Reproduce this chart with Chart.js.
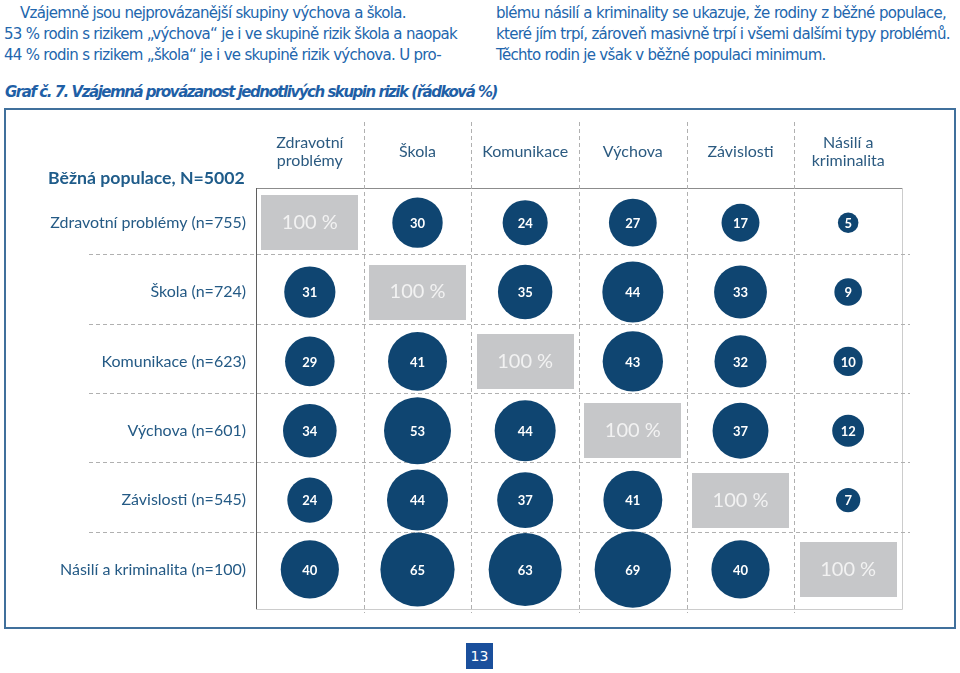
<!DOCTYPE html>
<html lang="cs">
<head>
<meta charset="utf-8">
<title>Graf č. 7</title>
<script src="https://cdn.jsdelivr.net/npm/chart.js@4.4.1/dist/chart.umd.min.js"></script>
<style>
  html, body { margin: 0; padding: 0; background: #fff; }
  #page { position: relative; width: 960px; height: 673px; overflow: hidden; font-family: "DejaVu Sans", sans-serif; color: #2266ad; }
  .txt { position: absolute; white-space: nowrap; line-height: 21px; font-size: 15px; }
  .just { width: 450px; text-align: justify; text-align-last: justify; }
  #title { position: absolute; left: 5px; white-space: nowrap; font-weight: bold; font-style: italic; line-height: 20px; top: 82px; font-size: 15px; color: #1f5fa6; }
  #box { position: absolute; left: 4px; top: 108px; width: 952px; height: 521px; border: 2px solid #40709c; box-sizing: border-box; }
  #chart { position: absolute; left: 6px; top: 110px; }
  #population { position: absolute; left: 48px; top: 166px; font-family: Lato, sans-serif; font-weight: bold; color: #1f5c8a; white-space: nowrap; line-height: 24px; }
  #pageno { position: absolute; left: 466px; top: 643px; width: 27px; height: 26px; background: #1a4f9c; color: #fff; font-size: 14px; line-height: 26px; text-align: center; }
</style>
</head>
<body>
<div id="page">
  <div class="txt" style="left:20px; top:3px;">Vzájemně jsou nejprovázanější skupiny výchova a škola.</div>
  <div class="txt" id="refLine" style="left:4px; top:24px;">53 % rodin s rizikem „výchova“ je i ve skupině rizik škola a naopak</div>
  <div class="txt" style="left:4px; top:45px;">44 % rodin s rizikem „škola“ je i ve skupině rizik výchova. U pro-</div>
  <div class="txt just" style="left:496px; top:3px;">blému násilí a kriminality se ukazuje, že rodiny z běžné populace,</div>
  <div class="txt just" style="left:496px; top:24px;">které jím trpí, zároveň masivně trpí i všemi dalšími typy problémů.</div>
  <div class="txt" style="left:496px; top:45px;">Těchto rodin je však v běžné populaci minimum.</div>
  <div id="title">Graf č. 7. Vzájemná provázanost jednotlivých skupin rizik (řádková %)</div>
  <div id="box"></div>
  <canvas id="chart" width="948" height="516"></canvas>
  <div id="population">Běžná populace, N=5002</div>
  <div id="pageno">13</div>
</div>
<script>
// column headers and row labels
const columns = [['Zdravotní', 'problémy'], 'Škola', 'Komunikace', 'Výchova', 'Závislosti', ['Násilí a', 'kriminalita']];
const rowLabels = ['Zdravotní problémy (n=755)', 'Škola (n=724)', 'Komunikace (n=623)', 'Výchova (n=601)', 'Závislosti (n=545)', 'Násilí a kriminalita (n=100)'];

// row percentages (one array per row)
const zdravotniProblemy = [100, 30, 24, 27, 17, 5];
const skola = [31, 100, 35, 44, 33, 9];
const komunikace = [29, 41, 100, 43, 32, 10];
const vychova = [34, 53, 44, 100, 37, 12];
const zavislosti = [24, 44, 37, 41, 100, 7];
const nasiliKriminalita = [40, 65, 63, 69, 40, 100];

const matrix = [zdravotniProblemy, skola, komunikace, vychova, zavislosti, nasiliKriminalita];

// squeeze the page text to the widths in the scan, keeping the font size
function spacingFor(el, target) {
  const w = el.getBoundingClientRect().width;
  return (target - w) / el.textContent.length;
}
const bodySpacing = spacingFor(document.getElementById('refLine'), 453);
document.querySelectorAll('.txt').forEach(el => { el.style.letterSpacing = bodySpacing + 'px'; });
const titleEl = document.getElementById('title');
titleEl.style.letterSpacing = spacingFor(titleEl, 492) + 'px';
const popEl = document.getElementById('population');
popEl.style.fontSize = '100px';
popEl.style.fontSize = (100 * 197 / popEl.getBoundingClientRect().width) + 'px';

// bubble area follows the value
const radiusPerSqrt = 4.6;
const bubbles = [];
const diagonal = [];
matrix.forEach((row, i) => {
  row.forEach((v, j) => {
    if (i === j) diagonal.push({ x: j, y: i, r: 28, v: v });
    else bubbles.push({ x: j, y: i, r: radiusPerSqrt * Math.sqrt(v), v: v });
  });
});

// gray box used for the 100 % cells
const cellBox = document.createElement('canvas');
cellBox.width = 97;
cellBox.height = 55;
const cb = cellBox.getContext('2d');
cb.fillStyle = '#c6c7c9';
cb.fillRect(0, 0, 97, 55);

// dashed separators that run past the plot area, plus the light frame
const gridPlugin = {
  id: 'cellGrid',
  beforeDatasetsDraw(chart) {
    const { ctx, chartArea: a, scales: { x, y } } = chart;
    ctx.save();
    ctx.lineWidth = 1;
    ctx.strokeStyle = '#cccccc';
    ctx.beginPath();
    ctx.moveTo(a.right + 0.5, a.top);
    ctx.lineTo(a.right + 0.5, a.bottom + 0.5);
    ctx.lineTo(a.left, a.bottom + 0.5);
    ctx.stroke();

    ctx.strokeStyle = '#b0b0b0';
    ctx.setLineDash([4, 3]);
    for (let k = 0; k < columns.length - 1; k++) {
      const px = Math.round(x.getPixelForValue(k + 0.5)) + 0.5;
      ctx.beginPath();
      ctx.moveTo(px, a.top - 66);
      ctx.lineTo(px, a.bottom + 4);
      ctx.stroke();
    }
    for (let k = 0; k < rowLabels.length - 1; k++) {
      const py = Math.round(y.getPixelForValue(k + 0.455)) + 0.5;
      ctx.beginPath();
      ctx.moveTo(a.left - 167, py);
      ctx.lineTo(a.right + 8, py);
      ctx.stroke();
    }
    ctx.restore();
  }
};

// numbers inside the bubbles and the 100 % boxes
const labelPlugin = {
  id: 'cellLabels',
  afterDatasetsDraw(chart) {
    const ctx = chart.ctx;
    ctx.save();
    ctx.textAlign = 'center';
    ctx.textBaseline = 'middle';
    chart.data.datasets.forEach((ds, di) => {
      chart.getDatasetMeta(di).data.forEach((el, k) => {
        const v = ds.data[k].v;
        if (di === 0) {
          ctx.font = 'bold 13px Lato';
          ctx.fillStyle = '#ffffff';
          ctx.fillText(String(v), el.x, el.y + 1);
        } else {
          ctx.font = '20px Lato';
          ctx.fillStyle = '#f2f2f2';
          ctx.fillText(v + ' %', el.x, el.y);
        }
      });
    });
    ctx.restore();
  }
};

const ctx = document.getElementById('chart').getContext('2d');
new Chart(ctx, {
  type: 'bubble',
  data: {
    datasets: [{
      data: bubbles,
      backgroundColor: '#0f4571',
      borderWidth: 0
    }, {
      data: diagonal,
      pointStyle: cellBox,
      backgroundColor: '#c6c7c9',
      borderWidth: 0
    }]
  },
  options: {
    responsive: false,
    animation: false,
    events: [],
    layout: { autoPadding: false, padding: { left: 0, top: 0, right: 52, bottom: 17 } },
    plugins: {
      legend: { display: false },
      tooltip: { enabled: false }
    },
    scales: {
      x: {
        type: 'linear',
        position: 'top',
        min: -0.5,
        max: 5.5,
        afterBuildTicks: s => { s.ticks = columns.map((_, i) => ({ value: i })); },
        afterFit: s => { s.height = 78; s.paddingLeft = 0; s.paddingRight = 0; },
        ticks: {
          callback: v => columns[v],
          font: { family: 'Lato', size: 16, lineHeight: 1.15 },
          color: '#2b5a80',
          padding: 27,
          crossAlign: 'center',
          maxRotation: 0,
          autoSkip: false
        },
        grid: { display: false, drawTicks: false },
        border: { display: true, color: '#8c8c8c' }
      },
      y: {
        type: 'linear',
        reverse: true,
        min: -0.5,
        max: 5.57,
        afterBuildTicks: s => { s.ticks = rowLabels.map((_, i) => ({ value: i })); },
        afterFit: s => { s.width = 250; s.paddingTop = 0; s.paddingBottom = 0; },
        ticks: {
          callback: v => rowLabels[v],
          font: { family: 'Lato', size: 16 },
          color: '#245a85',
          padding: 10,
          autoSkip: false
        },
        grid: { display: false, drawTicks: false },
        border: { display: true, color: '#5f5f5f' }
      }
    }
  },
  plugins: [gridPlugin, labelPlugin]
});
</script>
</body>
</html>
